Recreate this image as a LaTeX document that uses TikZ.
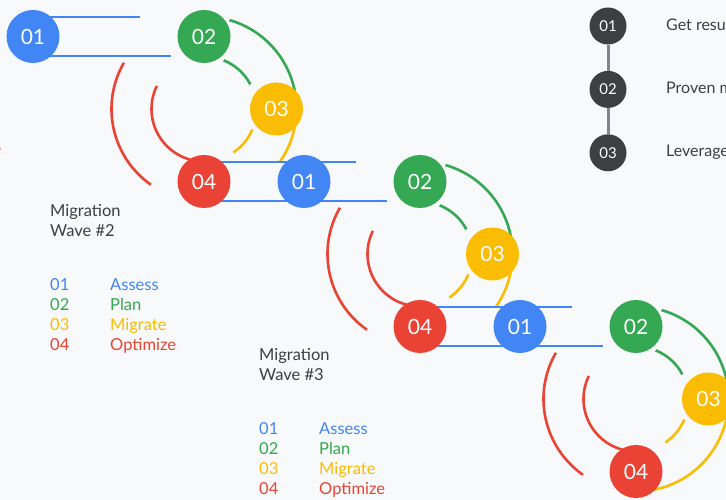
\documentclass[tikz,border=0pt]{standalone}
\usepackage{fontspec}
\setmainfont{Lato}
\usetikzlibrary{positioning}
\pgfdeclarelayer{background}
\pgfsetlayers{background,main}
\definecolor{gblue}{HTML}{4285F4}
\definecolor{ggreen}{HTML}{34A853}
\definecolor{gyellow}{HTML}{FBBC04}
\definecolor{gred}{HTML}{EA4335}
\definecolor{gdark}{HTML}{3C4043}
\definecolor{ggrey}{HTML}{80868B}
\definecolor{gback}{HTML}{F8F9FA}
\tikzset{
  stage/.style={circle, fill=#1, minimum size=53pt, inner sep=0pt, text=white, font=\fontsize{21}{21}\selectfont},
  keypt/.style={circle, fill=gdark, minimum size=37pt, inner sep=0pt, text=white, font=\fontsize{15}{15}\selectfont},
  track/.style={line width=2.6pt},
  title/.style={text=gdark, inner sep=0pt, anchor=base west, font=\fontsize{16.5}{16.5}\selectfont},
  point/.style={text=gdark, inner sep=0pt, anchor=base west, font=\fontsize{16}{16}\selectfont},
  legend/.style={inner sep=0pt, anchor=base west, font=\fontsize{16.5}{16.5}\selectfont}
}

\begin{document}
\begin{tikzpicture}[x=1pt,y=1pt]
\useasboundingbox (0,0) rectangle (726,500);

% stages of each wave
\foreach \w/\cx/\cy/\ax in {1/204/391/33, 2/420/246/304, 3/636/101/520}{
	\coordinate (hub\w) at (\cx,\cy);
	\node[stage=gblue] (assess\w) at (\ax,\cy+72.5) {01};
	\node[stage=ggreen] (plan\w) at (\cx,\cy+72.5) {02};
	\node[stage=gyellow] (migrate\w) at (\cx+72.5,\cy) {03};
	\node[stage=gred] (optimize\w) at (\cx,\cy-72.5) {04};
}

% tracks behind the stages
\begin{pgfonlayer}{background}
\fill[gback] (0,0) rectangle (726,500);
\foreach \w/\src/\yend in {1/assess1/-35, 2/optimize1/-35, 3/optimize2/-79}{
	\coordinate (topend\w) at ([shift={(-64,92)}]hub\w);
	\coordinate (botend\w) at ([shift={(-33,53)}]hub\w);
	\draw[track, gblue] (\src.center |- topend\w) -- (topend\w);
	\draw[track, gblue] (\src.center |- botend\w) -- (botend\w);
	\draw[track, ggreen] ([shift={(74:92.5)}]hub\w) arc[start angle=74, end angle=8, radius=92.5];
	\draw[track, ggreen] ([shift={(68:52.5)}]hub\w) arc[start angle=68, end angle=28, radius=52.5];
	\draw[track, gyellow] ([shift={(-8:92.5)}]hub\w) arc[start angle=-8, end angle=\yend, radius=92.5];
	\draw[track, gyellow] ([shift={(-23:52.5)}]hub\w) arc[start angle=-23, end angle=-56, radius=52.5];
	\draw[track, gred] ([shift={(150:92.5)}]hub\w) arc[start angle=150, end angle=235, radius=92.5];
	\draw[track, gred] ([shift={(154:52.5)}]hub\w) arc[start angle=154, end angle=258, radius=52.5];
}
\end{pgfonlayer}

% wave legends
\node[legend, text=gred, anchor=base east] (optimize0) at (1.5,345) {Optimize};
\foreach \w/\lx/\ly in {2/50/283, 3/259/139}{
	\node[title] (head\w) at (\lx,\ly) {Migration};
	\node[title] (wave\w) at (\lx,\ly-20) {Wave \#\w};
	\foreach \i/\word/\col in {1/Assess/gblue, 2/Plan/ggreen, 3/Migrate/gyellow, 4/Optimize/gred}{
		\node[legend, text=\col] (num\w\i) at (\lx,\ly-54-20*\i) {0\i};
		\node[legend, text=\col] (word\w\i) at (\lx+60,\ly-54-20*\i) {\word};
	}
}

% key points
\node[keypt] (key1) at (608,474) {01};
\node[keypt, below=26pt of key1] (key2) {02};
\node[keypt, below=26pt of key2] (key3) {03};
\draw[ggrey, line width=3pt] (key1) -- (key2);
\draw[ggrey, line width=3pt] (key2) -- (key3);
\node[point] (point1) at (666,469) {Get results};
\node[point] (point2) at (666,406) {Proven methods};
\node[point] (point3) at (666,343) {Leverage};
\end{tikzpicture}
\end{document}
